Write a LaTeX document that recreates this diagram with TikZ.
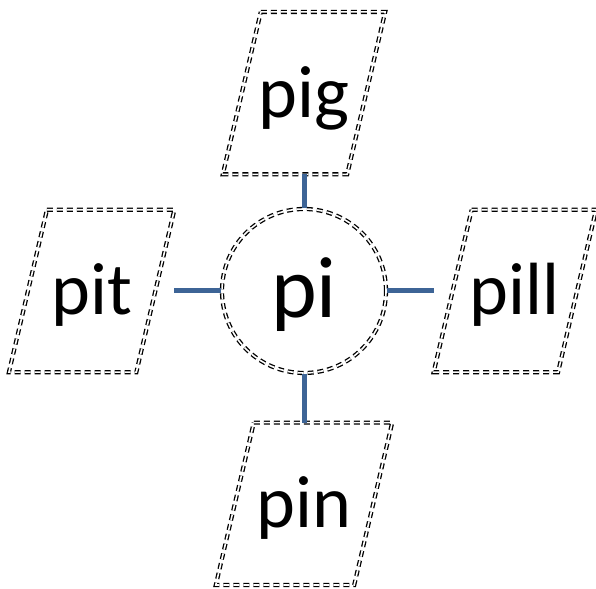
\documentclass[tikz,border=0pt]{standalone}
\usepackage{fontspec}
\setmainfont{Carlito}
\usepackage{xcolor}
\usetikzlibrary{positioning}
\definecolor{linkblue}{RGB}{61,100,150}

\begin{document}
\begin{tikzpicture}
            [x=1pt,y=1pt,
             dd/.style={draw=black, line width=1.3pt, double=white, double distance=1.6pt, dash pattern=on 6pt off 4pt},
             word/.style={inner sep=0pt, minimum height=162pt, text height=66pt, text depth=18pt, font=\fontsize{74}{74}\selectfont},
             hub/.style={dd, circle, inner sep=0pt, minimum size=164pt, text height=72pt, text depth=18pt, font=\fontsize{87}{87}\selectfont},
             link/.style={draw=linkblue, line width=5pt}]
            \useasboundingbox (0,0) rectangle (596,588);
            \node[hub] (pi) at (304,297) {pi};
            \node[word, minimum width=162pt, above=34pt of pi] (pig) {pig};
            \node[word, minimum width=165pt, left=47pt of pi] (pit) {pit};
            \node[word, minimum width=162pt, right=47pt of pi] (pill) {pill};
            \node[word, minimum width=176pt, below=49pt of pi] (pin) {pin};
            
            \foreach \n in {pig,pit,pill,pin}
            \draw[dd] ([xshift=38pt]\n.north west) -- (\n.north east) -- ([xshift=-38pt]\n.south east) -- (\n.south west) -- cycle;
            \foreach \to in {pig,pit,pill,pin}
            \draw[link] (pi) -- (\to);
          \end{tikzpicture}
\end{document}
